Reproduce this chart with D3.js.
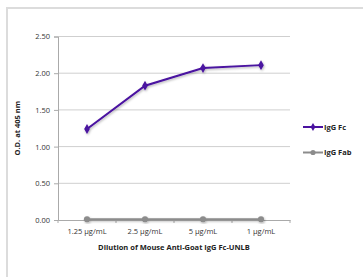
<!DOCTYPE html>
<meta charset="utf-8">
<script src="https://d3js.org/d3.v7.min.js"></script>
<style>
  body { margin: 0; background: #fff; }
  text { font-family: "Open Sans", "Liberation Sans", sans-serif; }
</style>
<div id="my_dataviz"></div>
<script>
// data
var categories = ["1.25 µg/mL", "2.5 µg/mL", "5 µg/mL", "1 µg/mL"];
var fcValues = [1.24, 1.83, 2.07, 2.11];
var fabValues = [0.01, 0.01, 0.01, 0.01];
var yTicks = [0, 0.5, 1.0, 1.5, 2.0, 2.5];
var seriesNames = ["IgG Fc", "IgG Fab"];

var W = 363, H = 277;
var margin = {top: 36.5, left: 58, right: 73, bottom: 57};
var width = W - margin.left - margin.right,
    height = H - margin.top - margin.bottom;
var fs = 7.5;

var root = d3.select("#my_dataviz").append("svg")
  .attr("width", W).attr("height", H);

// light frame around the panel
root.append("path")
  .attr("d", "M7,277 L7,8 L363,8")
  .attr("fill", "none").attr("stroke", "#dcdcdc").attr("stroke-width", 2);

var defs = root.append("defs");
var f = defs.append("filter").attr("id", "shadow")
  .attr("x", "-20%").attr("y", "-20%").attr("width", "140%").attr("height", "140%");
f.append("feDropShadow").attr("dx", 0.8).attr("dy", 1.2)
  .attr("stdDeviation", 0.8).attr("flood-color", "#000").attr("flood-opacity", 0.3);

var svg = root.append("g")
  .attr("transform", "translate(" + margin.left + "," + margin.top + ")");

var x = d3.scaleBand().domain(categories).range([0, width]);
var y = d3.scaleLinear().domain([0, 2.5]).range([height, 0]);

// gridlines
svg.append("g").selectAll("line").data(yTicks.filter(function(d){ return d > 0; }))
  .enter().append("line")
  .attr("x1", 0).attr("x2", width)
  .attr("y1", function(d){ return y(d); }).attr("y2", function(d){ return y(d); })
  .attr("stroke", "#cfcfcf").attr("stroke-width", 1);

// y axis
var yAxis = svg.append("g")
  .call(d3.axisLeft(y).tickValues(yTicks).tickFormat(d3.format(".2f")).tickSize(4).tickPadding(4));
yAxis.select(".domain").attr("stroke", "#aaa");
yAxis.selectAll(".tick line").attr("stroke", "#aaa");
yAxis.selectAll("text").attr("font-size", fs).attr("fill", "#333")
  .style("font-family", "'Open Sans', sans-serif");

// x axis, ticks on band edges
var xAxis = svg.append("g").attr("transform", "translate(0," + height + ")")
  .call(d3.axisBottom(x).tickSize(0).tickPadding(9));
xAxis.select(".domain").attr("stroke", "#aaa");
xAxis.selectAll("text").attr("font-size", fs).attr("fill", "#333")
  .style("font-family", "'Open Sans', sans-serif");
svg.append("g").selectAll("line")
  .data(d3.range(categories.length + 1))
  .enter().append("line")
  .attr("x1", function(i){ return i * x.step(); }).attr("x2", function(i){ return i * x.step(); })
  .attr("y1", height).attr("y2", height + 3)
  .attr("stroke", "#aaa");

// axis titles
svg.append("text")
  .attr("x", width / 2).attr("y", height + 30)
  .attr("text-anchor", "middle").attr("font-size", fs).attr("font-weight", "bold")
  .attr("fill", "#222")
  .text("Dilution of Mouse Anti-Goat IgG Fc-UNLB");

svg.append("text")
  .attr("transform", "rotate(-90)")
  .attr("x", -(y(1.25))).attr("y", -38)
  .attr("text-anchor", "middle").attr("font-size", fs).attr("font-weight", "bold")
  .attr("fill", "#222")
  .text("O.D. at 405 nm");

var cx = function(d, i){ return x(categories[i]) + x.bandwidth() / 2; };
var line = d3.line()
  .x(function(d, i){ return x(categories[i]) + x.bandwidth() / 2; })
  .y(function(d){ return y(d); });

var series = [
  {name: seriesNames[0], values: fcValues, color: "#4a12a0", symbol: d3.symbolDiamond, size: 28},
  {name: seriesNames[1], values: fabValues, color: "#8c8c8c", symbol: d3.symbolCircle, size: 30}
];

series.forEach(function(s) {
  var g = svg.append("g").attr("filter", "url(#shadow)");
  g.append("path").datum(s.values)
    .attr("d", line).attr("fill", "none")
    .attr("stroke", s.color).attr("stroke-width", 2);
  g.selectAll("path.pt").data(s.values).enter().append("path")
    .attr("class", "pt")
    .attr("transform", function(d, i){ return "translate(" + cx(d, i) + "," + y(d) + ")"; })
    .attr("d", d3.symbol().type(s.symbol).size(s.size))
    .attr("fill", s.color);
});

// legend
var legend = root.append("g").attr("transform", "translate(303,127)");
series.forEach(function(s, i) {
  var g = legend.append("g").attr("transform", "translate(0," + (i * 25.5) + ")");
  g.append("line").attr("x1", 0).attr("x2", 20)
    .attr("stroke", s.color).attr("stroke-width", 2);
  g.append("path").attr("transform", "translate(10,0)")
    .attr("d", d3.symbol().type(s.symbol).size(s.size * 0.7))
    .attr("fill", s.color);
  g.append("text").attr("x", 21).attr("y", 2.6)
    .attr("font-size", fs).attr("font-weight", "bold").attr("fill", "#222")
    .text(s.name);
});
</script>
